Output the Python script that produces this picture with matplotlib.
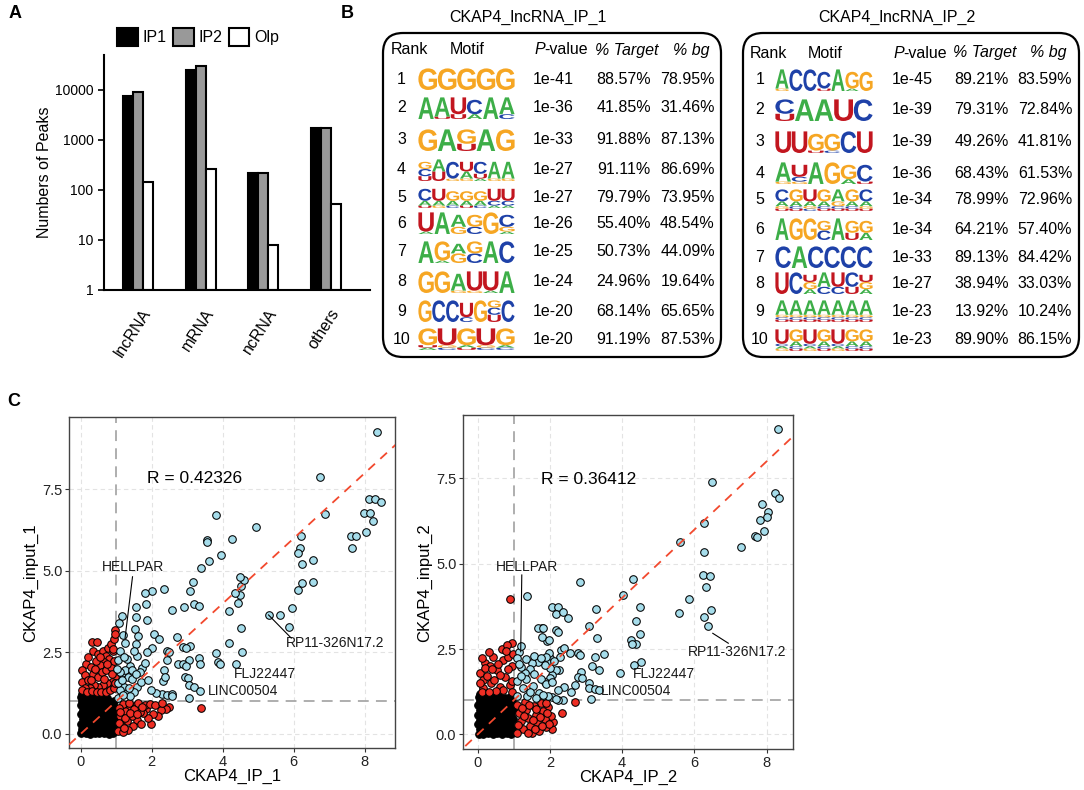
import re
import numpy as np
import matplotlib
matplotlib.use("Agg")
import matplotlib.pyplot as plt
from matplotlib.patches import Patch, PathPatch, FancyBboxPatch
from matplotlib.textpath import TextPath
from matplotlib.font_manager import FontProperties
from matplotlib.transforms import Affine2D, blended_transform_factory
from matplotlib.ticker import NullLocator

plt.rcParams["font.family"] = ["Liberation Sans", "DejaVu Sans"]

# ---------------- panel A data ----------------
peak_types = ["lncRNA", "mRNA", "ncRNA", "others"]
peaks_ip1 = [7600, 25000, 215, 1700]
peaks_ip2 = [9100, 30000, 222, 1740]
peaks_olp = [142, 268, 8, 52]

# ---------------- panel B data ----------------
# logo columns: letter + height in tenths, listed top -> bottom
motifs_ip1 = [
    ["G9", "G9", "G9", "G9", "G9"],
    ["A9", "A8U1", "U7U2", "C6A2", "A9", "A7C2"],
    ["G9", "A9", "G6U3", "A9", "G9"],
    ["G3C3U2", "A5U4", "C7G1", "U4A3G1", "C5U2A1", "A7G1", "A7G1"],
    ["C5A2U1", "U5A2G1", "G4A2C1", "G4A2U1", "G4A2C1", "U5C2A1", "U5C2A1"],
    ["U8A1", "A9", "A5G3", "G5C3", "G9", "C5G2A1"],
    ["A9", "G8A1", "A4G4", "G5C4", "A9", "C9"],
    ["G9", "G9", "A7G1", "U8G1", "U8A1", "A9"],
    ["G9", "C9", "C9", "U6C2", "G9", "G3C3U3", "C9"],
    ["G7U1A1", "U7G1C1", "G7A1U1", "U7G1C1", "G7A1C1"],
]
pvals_ip1 = ["1e-41", "1e-36", "1e-33", "1e-27", "1e-27", "1e-26", "1e-25", "1e-24", "1e-20", "1e-20"]
target_ip1 = ["88.57%", "41.85%", "91.88%", "91.11%", "79.79%", "55.40%", "50.73%", "24.96%", "68.14%", "91.19%"]
bg_ip1 = ["78.95%", "31.46%", "87.13%", "86.69%", "73.95%", "48.54%", "44.09%", "19.64%", "65.65%", "87.53%"]

motifs_ip2 = [
    ["A8G1", "C9", "C9", "C7U1", "A9", "G7A1", "G8"],
    ["C6U3", "A9", "A9", "U9", "C9"],
    ["U9", "U9", "G7U1", "G7C1", "C9", "U9"],
    ["A8G1", "U5C2G1", "A9", "G9", "G6A2", "C7U1"],
    ["C5A2G1U1", "G5A2C1U1", "U5A2G1C1", "G5A2C1U1", "A5G2C1U1", "G5A2C1U1", "C5A2G1U1"],
    ["A9", "G9", "G9", "G4C4", "A9", "G5U3", "G5A3"],
    ["C9", "A9", "C9", "C9", "C9", "C9"],
    ["U9", "C9", "U3G3A2", "A6C3", "U6C3", "C6U3", "U3G3A2"],
    ["A6G1C1U1"] * 7,
    ["U6C1A1G1", "G5A2C1U1", "U6C1A1G1", "G5A2C1U1", "U6C1A1G1", "G5A2C1U1", "G5A2C1U1"],
]
pvals_ip2 = ["1e-45", "1e-39", "1e-39", "1e-36", "1e-34", "1e-34", "1e-33", "1e-27", "1e-23", "1e-23"]
target_ip2 = ["89.21%", "79.31%", "49.26%", "68.43%", "78.99%", "64.21%", "89.13%", "38.94%", "13.92%", "89.90%"]
bg_ip2 = ["83.59%", "72.84%", "41.81%", "61.53%", "72.96%", "57.40%", "84.42%", "33.03%", "10.24%", "86.15%"]

# ---------------- panel C data ----------------
ip1_cyan = np.array([
    (8.34, 9.27), (6.73, 7.88), (3.82, 6.71), (4.93, 6.36), (4.26, 5.97), (3.57, 5.94), (3.57, 5.88),
    (6.88, 6.73), (8.11, 7.19), (8.30, 7.19), (8.47, 7.11), (7.97, 6.79), (8.15, 6.79), (8.24, 6.53),
    (8.03, 6.19), (7.60, 6.08), (7.74, 6.06), (7.64, 5.71), (6.21, 6.07), (6.18, 5.69), (6.13, 5.55),
    (6.54, 5.32), (6.24, 5.22), (6.22, 4.63), (6.54, 4.65), (6.11, 4.41), (5.96, 3.87), (5.61, 3.65),
    (5.29, 3.65), (5.87, 3.28), (3.96, 5.50), (3.61, 5.29), (3.40, 5.09), (3.16, 4.67), (3.07, 4.38),
    (2.91, 3.88), (3.18, 3.99), (3.33, 3.92), (2.36, 4.43), (2.56, 3.80), (2.00, 4.38), (1.80, 4.32),
    (1.84, 4.00), (1.57, 3.88), (1.87, 3.48), (1.55, 3.60), (1.17, 3.63), (1.08, 3.39), (1.52, 3.23),
    (1.61, 2.99), (2.06, 3.06), (2.20, 2.91), (1.57, 2.76), (2.70, 2.97), (2.01, 2.64), (1.87, 2.51),
    (2.42, 2.54), (2.48, 2.52), (2.88, 2.68), (3.09, 2.71), (2.96, 2.63), (4.18, 2.79), (4.44, 4.02),
    (4.50, 4.26), (4.52, 4.54), (4.60, 4.71), (4.50, 4.82), (4.36, 4.31), (4.18, 3.78), (4.52, 3.25),
    (4.55, 2.51), (3.82, 2.48), (3.86, 2.21), (3.92, 2.13), (4.37, 2.14), (3.33, 2.33), (3.35, 2.14),
    (3.05, 2.27), (2.73, 2.14), (2.87, 2.14), (2.96, 2.09), (2.36, 1.97), (2.43, 2.27), (2.33, 1.61),
    (2.38, 1.76), (2.93, 1.76), (3.01, 1.71), (3.04, 1.51), (3.20, 1.45), (3.35, 1.33), (3.05, 1.10),
    (2.28, 1.22), (2.42, 1.20), (2.57, 1.23), (2.57, 1.15), (2.13, 1.27), (1.73, 2.02), (1.80, 2.17),
    (1.67, 1.89), (1.60, 2.38), (1.50, 2.53), (1.40, 2.07), (1.33, 1.76), (1.21, 1.45), (1.16, 1.86),
    (1.06, 2.27), (1.26, 2.79), (1.19, 3.04), (1.11, 1.35), (1.60, 1.45), (1.70, 1.58), (1.89, 1.66),
    (1.31, 1.25), (1.50, 1.30), (1.99, 1.35), (1.06, 1.10), (1.40, 1.15), (1.05, 1.55), (1.15, 1.65),
    (1.25, 1.95), (1.35, 1.40), (1.45, 1.70), (1.20, 1.20), (1.10, 1.90), (1.30, 2.30), (1.45, 1.95),
    (1.55, 1.85), (1.02, 2.00), (1.12, 2.55), (1.22, 2.35),
])
ip1_red = np.array([
    (0.31, 2.83), (0.45, 2.81), (0.15, 2.15), (0.05, 1.95), (0.22, 2.35), (0.35, 2.55), (0.50, 2.45),
    (0.62, 2.55), (0.70, 2.40), (0.78, 2.65), (0.86, 2.75), (0.93, 2.90), (0.98, 3.18), (0.97, 3.05),
    (0.90, 2.55), (0.80, 2.30), (0.66, 2.20), (0.55, 2.10), (0.42, 2.25), (0.28, 2.05), (0.12, 1.80),
    (0.05, 1.60), (0.20, 1.65), (0.35, 1.85), (0.48, 1.75), (0.60, 1.90), (0.72, 1.95), (0.85, 2.05),
    (0.95, 2.25), (0.97, 1.75), (0.88, 1.60), (0.75, 1.55), (0.62, 1.50), (0.50, 1.45), (0.38, 1.50),
    (0.25, 1.40), (0.12, 1.40), (0.03, 1.35), (0.18, 1.30), (0.32, 1.32), (0.45, 1.30), (0.58, 1.28),
    (0.70, 1.30), (0.82, 1.35), (0.93, 1.40), (0.98, 1.55), (0.40, 2.00), (0.30, 1.65), (0.65, 1.70),
    (0.88, 1.85), (0.55, 2.35), (0.75, 2.15), (0.92, 2.60),
    (3.38, 0.79), (2.48, 0.84), (2.40, 0.78), (2.26, 0.74), (2.18, 0.56), (1.97, 0.31), (2.05, 0.62),
    (1.90, 0.50), (1.85, 0.78), (1.75, 0.65), (1.67, 0.68), (1.60, 0.43), (1.55, 0.90), (1.48, 0.23),
    (1.45, 0.55), (1.40, 0.84), (1.33, 0.12), (1.30, 0.40), (1.25, 0.70), (1.20, 0.92), (1.15, 0.25),
    (1.12, 0.55), (1.08, 0.80), (1.05, 0.10), (1.08, 0.35), (1.18, 0.05), (1.35, 0.95), (1.50, 0.75),
    (1.62, 0.95), (1.70, 0.30), (1.80, 0.88), (1.95, 0.92), (2.10, 0.88), (2.30, 0.95), (1.25, 0.50),
    (1.38, 0.65), (1.58, 0.60), (1.72, 0.82), (1.10, 0.68), (1.22, 0.18),
])
ip1_black = np.array([
    (0.02, 0.02), (0.14, 0.03), (0.27, 0.01), (0.40, 0.04), (0.52, 0.02), (0.66, 0.03), (0.79, 0.01), (0.92, 0.04),
    (0.05, 0.16), (0.18, 0.17), (0.31, 0.15), (0.44, 0.18), (0.57, 0.16), (0.70, 0.14), (0.83, 0.17), (0.96, 0.15),
    (0.01, 0.30), (0.12, 0.31), (0.24, 0.29), (0.37, 0.32), (0.50, 0.30), (0.63, 0.28), (0.75, 0.31), (0.88, 0.30),
    (0.06, 0.45), (0.19, 0.44), (0.32, 0.46), (0.45, 0.45), (0.58, 0.43), (0.71, 0.46), (0.84, 0.44), (0.97, 0.46),
    (0.02, 0.60), (0.13, 0.59), (0.26, 0.61), (0.39, 0.60), (0.52, 0.58), (0.64, 0.61), (0.77, 0.60), (0.90, 0.59),
    (0.07, 0.74), (0.20, 0.75), (0.33, 0.73), (0.46, 0.76), (0.59, 0.74), (0.72, 0.73), (0.85, 0.75), (0.97, 0.74),
    (0.01, 0.88), (0.13, 0.89), (0.25, 0.87), (0.38, 0.90), (0.51, 0.88), (0.64, 0.87), (0.78, 0.89), (0.92, 0.90),
    (0.05, 1.02), (0.18, 1.01), (0.30, 1.03), (0.43, 1.00), (0.56, 1.02), (0.69, 1.01), (0.82, 0.99), (0.95, 1.00),
    (0.02, 1.14), (0.12, 1.15), (0.24, 1.12), (0.37, 1.13), (0.49, 1.10), (0.62, 1.12), (0.74, 1.09),
    (0.03, 1.24), (0.10, 1.22),
])

ip2_cyan = np.array([
    (8.31, 8.94), (6.49, 7.39), (8.23, 7.07), (8.34, 6.93), (7.88, 6.75), (8.05, 6.52), (7.81, 6.27),
    (8.02, 6.36), (7.93, 5.97), (7.69, 5.80), (7.74, 5.79), (7.30, 5.49), (6.27, 6.18), (5.61, 5.64),
    (6.26, 5.35), (6.25, 4.67), (6.44, 4.63), (6.32, 4.32), (5.85, 3.97), (5.57, 3.57), (6.45, 3.65),
    (6.26, 3.45), (6.37, 3.17), (4.30, 4.54), (4.01, 4.07), (4.50, 3.74), (4.37, 3.33), (4.50, 2.93),
    (4.25, 2.76), (4.37, 2.64), (4.27, 2.64), (4.51, 2.13), (4.34, 2.03), (3.93, 1.80), (2.83, 4.45),
    (3.28, 3.67), (3.07, 3.18), (3.29, 2.82), (3.50, 2.36), (3.25, 2.28), (2.78, 2.37), (2.83, 2.33),
    (3.17, 2.00), (3.36, 1.88), (2.85, 1.83), (2.78, 1.69), (2.88, 1.66), (3.07, 1.49), (3.07, 1.35),
    (3.25, 1.32), (3.36, 1.30), (3.15, 1.02), (2.69, 1.44), (2.59, 1.25), (2.40, 1.39), (2.21, 1.30),
    (2.35, 1.00), (2.24, 1.88), (2.16, 1.88), (2.06, 1.74), (2.01, 1.93), (2.01, 1.64), (1.87, 1.54),
    (2.06, 1.10), (2.21, 1.00), (2.30, 2.47), (2.38, 2.52), (2.27, 2.27), (2.01, 2.23), (1.92, 2.13),
    (2.16, 3.06), (2.21, 3.01), (1.92, 2.73), (1.77, 3.13), (1.77, 2.86), (2.06, 3.72), (2.21, 3.72),
    (2.16, 3.52), (2.35, 3.59), (2.51, 3.42), (1.36, 4.06), (1.67, 3.12), (1.80, 3.12), (1.97, 2.76),
    (2.56, 2.37), (1.96, 2.37), (1.89, 2.26), (2.11, 2.16), (1.85, 2.03), (1.66, 2.11), (1.49, 2.09),
    (1.33, 2.21), (1.57, 2.30), (1.75, 2.23), (1.45, 1.91), (1.30, 1.81), (1.19, 1.96), (1.14, 2.40),
    (1.19, 2.60), (1.09, 2.25), (1.35, 1.61), (1.57, 1.76), (1.75, 1.61), (1.89, 1.47), (1.52, 1.42),
    (1.24, 1.37), (1.09, 1.13), (1.36, 1.13), (1.69, 1.22), (2.06, 1.52), (1.95, 1.13), (2.18, 1.03),
    (1.10, 1.55), (1.20, 1.70), (1.60, 1.05), (1.80, 1.15), (1.45, 1.25), (1.15, 2.05),
])
ip2_red = np.array([
    (0.90, 3.96), (0.20, 2.10), (0.66, 2.49), (0.94, 2.67), (0.80, 2.62), (0.43, 2.28), (0.34, 1.99),
    (0.06, 1.79), (0.15, 1.59), (0.52, 1.89), (0.71, 2.18), (0.85, 2.28), (0.94, 1.99), (0.75, 1.69),
    (0.38, 1.49), (0.61, 1.39), (0.89, 1.44), (0.15, 1.35), (0.11, 1.25), (0.25, 1.70), (0.45, 1.60),
    (0.55, 2.05), (0.30, 2.40), (0.62, 1.75), (0.85, 1.90), (0.95, 1.55), (0.70, 1.30), (0.50, 1.28),
    (0.30, 1.25), (0.05, 1.50), (0.20, 1.95), (0.40, 1.90), (0.78, 2.45), (0.98, 2.35), (0.95, 1.25),
    (0.12, 2.25),
    (2.70, 0.94), (2.33, 0.63), (2.05, 0.15), (2.08, 0.35), (2.02, 0.55), (1.95, 0.80), (1.90, 0.20),
    (1.85, 0.45), (1.80, 0.68), (1.75, 0.92), (1.70, 0.10), (1.65, 0.35), (1.60, 0.58), (1.55, 0.82),
    (1.50, 0.05), (1.45, 0.25), (1.40, 0.48), (1.35, 0.72), (1.30, 0.95), (1.25, 0.15), (1.20, 0.40),
    (1.15, 0.62), (1.10, 0.85), (1.08, 0.05), (1.12, 0.28), (1.28, 0.55), (1.42, 0.85), (1.58, 0.15),
    (1.72, 0.50), (1.88, 0.92), (1.98, 0.30), (1.62, 0.75), (1.38, 0.05), (1.22, 0.78), (1.52, 0.42),
    (1.78, 0.25), (1.92, 0.62),
])
ip2_black = np.array([
    (0.03, 0.02), (0.15, 0.01), (0.28, 0.03), (0.41, 0.02), (0.53, 0.04), (0.67, 0.01), (0.80, 0.03), (0.93, 0.02),
    (0.06, 0.15), (0.19, 0.16), (0.32, 0.14), (0.45, 0.17), (0.58, 0.15), (0.71, 0.16), (0.84, 0.14), (0.96, 0.16),
    (0.02, 0.29), (0.13, 0.30), (0.25, 0.28), (0.38, 0.31), (0.51, 0.29), (0.64, 0.30), (0.76, 0.28), (0.89, 0.31),
    (0.07, 0.43), (0.20, 0.44), (0.33, 0.42), (0.46, 0.45), (0.59, 0.43), (0.72, 0.44), (0.85, 0.42), (0.97, 0.45),
    (0.02, 0.57), (0.14, 0.58), (0.27, 0.56), (0.40, 0.59), (0.53, 0.57), (0.65, 0.58), (0.78, 0.56), (0.91, 0.58),
    (0.06, 0.71), (0.19, 0.72), (0.32, 0.70), (0.45, 0.73), (0.58, 0.71), (0.71, 0.72), (0.84, 0.70), (0.97, 0.72),
    (0.02, 0.85), (0.14, 0.86), (0.26, 0.84), (0.39, 0.87), (0.52, 0.85), (0.65, 0.86), (0.78, 0.84), (0.91, 0.86),
    (0.06, 0.98), (0.18, 0.99), (0.31, 0.97), (0.44, 1.00), (0.57, 0.98), (0.70, 0.99), (0.83, 0.97), (0.95, 0.98),
    (0.03, 1.10), (0.13, 1.11), (0.25, 1.09), (0.38, 1.10), (0.50, 1.08), (0.63, 1.09), (0.76, 1.07), (0.88, 1.08),
    (0.05, 1.19),
])

W, H = 1084, 790
fig = plt.figure(figsize=(W / 100, H / 100), dpi=100)

# overlay in pixel coordinates for the tables and panel letters
ov = fig.add_axes([0, 0, 1, 1])
ov.set_xlim(0, W)
ov.set_ylim(H, 0)
ov.axis("off")
ov.set_zorder(5)

for letter, (lx, ly) in zip("ABC", [(15, 13), (347, 13), (14, 402)]):
    ov.text(lx, ly, letter, fontsize=13, fontweight="bold", ha="center", va="center")

# ---------------- panel A ----------------
axA = fig.add_axes([104 / W, 1 - 290 / H, (370 - 104) / W, (290 - 55) / H])
xpos = np.arange(len(peak_types))
bw = 0.16
for off, vals, fc, lab in [(-bw, peaks_ip1, "black", "IP1"),
                           (0, peaks_ip2, "#999999", "IP2"),
                           (bw, peaks_olp, "white", "Olp")]:
    axA.bar(xpos + off, np.array(vals) - 1, bottom=1, width=bw, color=fc,
            edgecolor="black", linewidth=1.5, label=lab)
axA.set_yscale("log")
axA.set_ylim(1, 10 ** 4.7)
axA.set_xlim(-0.54, 3.7)
axA.set_yticks([1, 10, 100, 1000, 10000])
axA.set_yticklabels(["1", "10", "100", "1000", "10000"], fontsize=10)
axA.yaxis.set_minor_locator(NullLocator())
axA.set_ylabel("Numbers of Peaks", fontsize=11.5, labelpad=2)
axA.set_xticks([])
lab_tr = blended_transform_factory(axA.transData, axA.transAxes)
for i, name in enumerate(peak_types):
    axA.text(xpos[i] + 0.16, -0.085, name, transform=lab_tr, fontsize=11.5, rotation=57,
             ha="right", va="center", rotation_mode="anchor", clip_on=False)
axA.tick_params(axis="y", length=4, width=1.2)
for s in ["top", "right"]:
    axA.spines[s].set_visible(False)
for s in ["left", "bottom"]:
    axA.spines[s].set_linewidth(1.5)
fig.legend(handles=[Patch(fc="black", ec="black", lw=1.5),
                    Patch(fc="#999999", ec="black", lw=1.5),
                    Patch(fc="white", ec="black", lw=1.5)],
           labels=["IP1", "IP2", "Olp"], loc="center", bbox_to_anchor=(198 / W, 1 - 37 / H),
           ncol=3, frameon=False, fontsize=11.5, handlelength=1.3, handleheight=1.3,
           handletextpad=0.3, columnspacing=0.4)

# ---------------- panel B ----------------
LOGO_FONT = FontProperties(family="Liberation Sans", weight="bold")
BASE_COLORS = {"A": "#3DAE48", "C": "#1E41A8", "G": "#F6A623", "U": "#C2161F"}


def draw_letter(ax, ch, x, y_bottom, w, h):
    tp = TextPath((0, 0), ch, size=1, prop=LOGO_FONT)
    ext = tp.get_extents()
    tr = (Affine2D().translate(-ext.x0, -ext.y0)
          .scale(w / ext.width, -h / ext.height).translate(x, y_bottom))
    ax.add_patch(PathPatch(tr.transform_path(tp), fc=BASE_COLORS[ch], ec="none", lw=0))


def draw_logo(ax, x0, x1, y_bottom, cols, unit=24):
    cw = (x1 - x0) / len(cols)
    for i, col in enumerate(cols):
        y = y_bottom
        for ch, d in reversed(re.findall(r"([ACGU])(\d)", col)):
            h = int(d) / 10 * unit
            draw_letter(ax, ch, x0 + i * cw + 0.4, y, cw - 0.8, h)
            y -= h


tables = [
    dict(title="CKAP4_lncRNA_IP_1", tx=528, box=(383, 33, 721, 357), hy=50,
         hx=(409.5, 467, 544.7, 627, 691),
         rows=[79, 108, 140, 170, 197, 223, 252, 282, 311, 339],
         rank_x=401.5, logo=(418, 515), vx=(553.5, 623.5, 687.5),
         motifs=motifs_ip1, p=pvals_ip1, t=target_ip1, b=bg_ip1),
    dict(title="CKAP4_lncRNA_IP_2", tx=896.7, box=(743, 33, 1079, 357), hy=53,
         hx=(768, 825, 903.7, 985, 1048),
         rows=[80, 110, 142, 173, 200, 229, 257, 283, 311, 340],
         rank_x=760, logo=(775, 873), vx=(912, 981.5, 1045),
         motifs=motifs_ip2, p=pvals_ip2, t=target_ip2, b=bg_ip2),
]
fs = 11.5
for tb in tables:
    ov.text(tb["tx"], 17, tb["title"], fontsize=fs, ha="center", va="center")
    x0, y0, x1, y1 = tb["box"]
    ov.add_patch(FancyBboxPatch((x0, y0), x1 - x0, y1 - y0,
                                boxstyle="round,pad=0,rounding_size=20",
                                fc="none", ec="black", lw=1.6))
    hx = tb["hx"]
    hy = tb["hy"]
    ov.text(hx[0], hy, "Rank", fontsize=fs, ha="center", va="center")
    ov.text(hx[1], hy, "Motif", fontsize=fs, ha="center", va="center")
    ov.text(hx[2], hy, "P", fontsize=fs, ha="right", va="center", style="italic")
    ov.text(hx[2], hy, "-value", fontsize=fs, ha="left", va="center")
    ov.text(hx[3], hy, "% Target", fontsize=fs, ha="center", va="center", style="italic")
    ov.text(hx[4], hy, "% bg", fontsize=fs, ha="center", va="center", style="italic")
    for i, ry in enumerate(tb["rows"]):
        ov.text(tb["rank_x"], ry, str(i + 1), fontsize=fs, ha="center", va="center")
        draw_logo(ov, tb["logo"][0], tb["logo"][1], ry + 11, tb["motifs"][i])
        ov.text(tb["vx"][0], ry, tb["p"][i], fontsize=fs, ha="center", va="center")
        ov.text(tb["vx"][1], ry, tb["t"][i], fontsize=fs, ha="center", va="center")
        ov.text(tb["vx"][2], ry, tb["b"][i], fontsize=fs, ha="center", va="center")


# ---------------- panel C ----------------
def scatter_panel(ax, black, red, cyan, xlim, ylim, xlabel, ylabel, r_text, r_xy, notes):
    ax.set_xlim(*xlim)
    ax.set_ylim(*ylim)
    ax.set_xticks([0, 2, 4, 6, 8])
    ax.set_yticks([0, 2.5, 5, 7.5])
    ax.set_yticklabels(["0.0", "2.5", "5.0", "7.5"])
    ax.grid(True, ls=(0, (4, 3)), color="#E3E3E3", lw=0.8, zorder=0)
    ax.set_axisbelow(True)
    ax.axvline(1, color="#A8A8A8", ls=(0, (6, 4)), lw=1.3, zorder=1)
    ax.axhline(1, color="#A8A8A8", ls=(0, (6, 4)), lw=1.3, zorder=1)
    kw = dict(s=30, edgecolors="black", linewidths=0.75, zorder=3)
    ax.scatter(black[:, 0], black[:, 1], c="black", **kw)
    ax.scatter(red[:, 0], red[:, 1], c="#EE2E24", **kw)
    ax.scatter(cyan[:, 0], cyan[:, 1], c="#A6DDEB", **kw)
    ax.plot([-1, 10], [-1, 10], color="#F2492E", ls=(0, (5, 4)), lw=1.3, zorder=4)
    ax.text(r_xy[0], r_xy[1], r_text, fontsize=12.5, ha="center", va="center", zorder=5)
    for txt, tx, ty, seg in notes:
        ax.text(tx, ty, txt, fontsize=10, ha="center", va="center", color="#1a1a1a", zorder=5)
        if seg is not None:
            ax.plot([seg[0], seg[2]], [seg[1], seg[3]], color="black", lw=0.8, zorder=5)
    ax.set_xlabel(xlabel, fontsize=12, labelpad=0)
    ax.set_ylabel(ylabel, fontsize=12, labelpad=3)
    ax.tick_params(labelsize=10.5, length=3, color="#333333", labelcolor="#222222", pad=2)
    for s in ax.spines.values():
        s.set_color("#444444")
        s.set_linewidth(1.0)


axC1 = fig.add_axes([69.3 / W, 1 - 748.3 / H, (395.3 - 69.3) / W, (748.3 - 417) / H])
scatter_panel(axC1, ip1_black, ip1_red, ip1_cyan, (-0.32, 8.86), (-0.44, 9.72),
              "CKAP4_IP_1", "CKAP4_input_1", "R = 0.42326", (3.2, 7.82),
              [("HELLPAR", 1.47, 5.12, (1.46, 4.82, 1.25, 2.94)),
               ("RP11-326N17.2", 7.16, 2.79, (5.29, 3.65, 5.93, 2.94)),
               ("FLJ22447", 5.19, 1.84, None),
               ("LINC00504", 4.56, 1.33, None)])

axC2 = fig.add_axes([463.3 / W, 1 - 749.3 / H, (793.3 - 463.3) / W, (749.3 - 415) / H])
scatter_panel(axC2, ip2_black, ip2_red, ip2_cyan, (-0.40, 8.74), (-0.44, 9.36),
              "CKAP4_IP_2", "CKAP4_input_2", "R = 0.36412", (3.07, 7.47),
              [("HELLPAR", 1.37, 4.90, (1.22, 4.67, 1.19, 2.42)),
               ("RP11-326N17.2", 7.19, 2.42, (6.51, 2.96, 6.94, 2.67)),
               ("FLJ22447", 5.17, 1.76, None),
               ("LINC00504", 4.39, 1.28, None)])

fig.savefig("out.png", dpi=100)
